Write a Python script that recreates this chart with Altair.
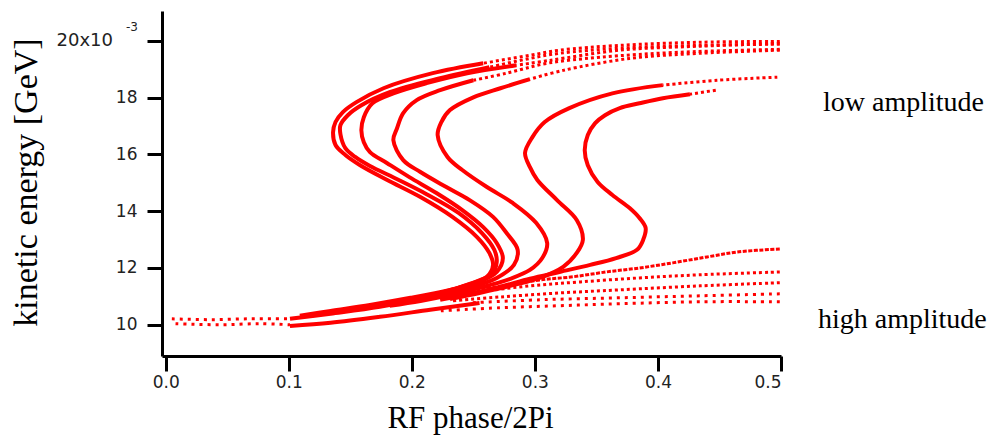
import altair as alt
import pandas as pd

# ---------------- data ----------------
# S-shaped filaments, ordered from the upper-right end to the lower-left end
c1_x = [0.447, 0.426, 0.404, 0.385, 0.369, 0.357, 0.349, 0.343, 0.3405, 0.343, 0.351, 0.363, 0.377, 0.385, 0.390, 0.388, 0.383, 0.366, 0.345, 0.320, 0.296, 0.272, 0.247, 0.223]
c1_y = [18.26, 18.12, 17.98, 17.80, 17.63, 17.38, 17.10, 16.68, 16.15, 15.62, 15.03, 14.57, 14.11, 13.76, 13.41, 12.99, 12.64, 12.35, 12.11, 11.86, 11.62, 11.34, 11.09, 10.88]

c2_x = [0.497, 0.448, 0.404, 0.363, 0.328, 0.308, 0.298, 0.292, 0.296, 0.302, 0.318, 0.334, 0.339, 0.334, 0.323, 0.304, 0.280, 0.255, 0.231]
c2_y = [18.72, 18.61, 18.44, 18.15, 17.63, 17.14, 16.61, 16.05, 15.55, 15.10, 14.39, 13.69, 12.99, 12.53, 12.04, 11.65, 11.37, 11.12, 10.91]

c3_x = [0.499, 0.434, 0.377, 0.323, 0.296, 0.272, 0.250, 0.231, 0.224, 0.221, 0.229, 0.241, 0.261, 0.282, 0.301, 0.310, 0.306, 0.296, 0.280, 0.255, 0.231, 0.207, 0.182]
c3_y = [19.67, 19.56, 19.38, 18.96, 18.65, 18.33, 18.01, 17.56, 17.14, 16.68, 15.91, 15.45, 14.85, 14.29, 13.59, 12.88, 12.35, 11.93, 11.62, 11.30, 11.05, 10.84, 10.67]

c4_x = [0.499, 0.418, 0.353, 0.310, 0.277, 0.250, 0.223, 0.204, 0.193, 0.188, 0.185, 0.193, 0.207, 0.228, 0.247, 0.266, 0.277, 0.286, 0.283, 0.269, 0.247, 0.223, 0.190, 0.158, 0.134]
c4_y = [19.70, 19.60, 19.42, 19.21, 18.86, 18.61, 18.26, 17.91, 17.45, 16.92, 16.50, 15.80, 15.38, 14.85, 14.39, 13.80, 13.23, 12.64, 12.11, 11.65, 11.30, 11.05, 10.77, 10.56, 10.42]

c5_x = [0.499, 0.434, 0.369, 0.312, 0.285, 0.245, 0.212, 0.185, 0.168, 0.161, 0.159, 0.161, 0.166, 0.180, 0.198, 0.220, 0.241, 0.258, 0.269, 0.274, 0.269, 0.255, 0.231, 0.199, 0.166, 0.134, 0.109]
c5_y = [19.91, 19.81, 19.67, 19.31, 19.14, 18.86, 18.51, 18.15, 17.80, 17.31, 16.85, 16.43, 16.08, 15.69, 15.20, 14.64, 14.04, 13.44, 12.88, 12.35, 11.86, 11.51, 11.23, 10.95, 10.70, 10.49, 10.32]

c6_x = [0.499, 0.434, 0.369, 0.320, 0.296, 0.263, 0.223, 0.182, 0.159, 0.148, 0.142, 0.142, 0.146, 0.154, 0.166, 0.186, 0.212, 0.238, 0.257, 0.267, 0.269, 0.265, 0.247, 0.223, 0.190, 0.150, 0.117]
c6_y = [19.88, 19.84, 19.74, 19.56, 19.38, 19.07, 18.68, 18.19, 17.73, 17.38, 17.03, 16.71, 16.22, 15.91, 15.59, 15.17, 14.60, 13.94, 13.23, 12.64, 12.21, 11.79, 11.44, 11.12, 10.84, 10.53, 10.32]

c7_x = [0.499, 0.434, 0.369, 0.320, 0.296, 0.258, 0.217, 0.177, 0.155, 0.144, 0.138, 0.136, 0.138, 0.146, 0.158, 0.180, 0.207, 0.233, 0.253, 0.263, 0.266, 0.261, 0.241, 0.215, 0.174, 0.134, 0.101]
c7_y = [19.98, 19.95, 19.84, 19.67, 19.49, 19.21, 18.86, 18.33, 17.84, 17.49, 17.14, 16.78, 16.33, 15.98, 15.62, 15.10, 14.50, 13.80, 13.09, 12.53, 12.11, 11.69, 11.34, 10.98, 10.63, 10.39, 10.21]

# lower branches running out to phase 0.5 (high amplitude side)
l1_x = [0.499, 0.466, 0.440, 0.412, 0.385, 0.358, 0.331, 0.304, 0.280, 0.255, 0.231]
l1_y = [12.67, 12.57, 12.39, 12.18, 12.00, 11.86, 11.69, 11.58, 11.41, 11.23, 11.02]
l2_x = [0.499, 0.434, 0.385, 0.337, 0.296, 0.255, 0.223]
l2_y = [11.86, 11.76, 11.65, 11.51, 11.37, 11.16, 10.95]
l3_x = [0.499, 0.434, 0.369, 0.320, 0.272, 0.231]
l3_y = [11.48, 11.37, 11.23, 11.12, 10.98, 10.84]
l4_x = [0.499, 0.434, 0.369, 0.304, 0.247]
l4_y = [11.09, 11.02, 10.95, 10.88, 10.77]
l5_x = [0.499, 0.434, 0.369, 0.320, 0.272, 0.223]
l5_y = [10.81, 10.81, 10.74, 10.67, 10.60, 10.49]

# low-energy band on the left
b0_x = [0.101, 0.134, 0.174, 0.215, 0.255]
b0_y = [9.96, 10.07, 10.28, 10.53, 10.77]
b1_x = [0.005, 0.036, 0.069, 0.101]
b1_y = [10.21, 10.18, 10.21, 10.21]
b2_x = [0.008, 0.044, 0.077, 0.101]
b2_y = [10.04, 10.00, 10.04, 10.00]

x_ticks = [0.0, 0.1, 0.2, 0.3, 0.4, 0.5]
y_ticks = [10, 12, 14, 16, 18, 20]
top_label = ["20x10"]
top_label_exp = ["-3"]
annotations = ["low amplitude", "high amplitude"]
x_title = "RF phase/2Pi"
y_title = "kinetic energy [GeV]"

# (name, xs, ys, number of dotted leading points, head style, tail style)
series = [
    ("c1", c1_x, c1_y, 1, "dot", "solid"),
    ("c2", c2_x, c2_y, 2, "dot", "solid"),
    ("c3", c3_x, c3_y, 4, "dot", "solid"),
    ("c4", c4_x, c4_y, 5, "dot", "solid"),
    ("c5", c5_x, c5_y, 4, "dot", "solid"),
    ("c6", c6_x, c6_y, 5, "dot", "solid"),
    ("c7", c7_x, c7_y, 5, "dot", "solid"),
    ("l1", l1_x, l1_y, 0, "dot", "dense"),
    ("l2", l2_x, l2_y, 0, "dot", "dot"),
    ("l3", l3_x, l3_y, 0, "dot", "dot"),
    ("l4", l4_x, l4_y, 0, "dot", "sparse"),
    ("l5", l5_x, l5_y, 0, "dot", "sparse"),
    ("b0", b0_x, b0_y, 0, "dot", "solid"),
    ("b1", b1_x, b1_y, 0, "dot", "sparse"),
    ("b2", b2_x, b2_y, 0, "dot", "sparse"),
]

rows = []
for name, xs, ys, head, hs, ts in series:
    for i, (xv, yv) in enumerate(zip(xs, ys)):
        if head > 0 and i <= head:
            rows.append({"seg": name + "_h", "style": hs, "o": i, "x": xv, "y": yv})
        if i >= head:
            rows.append({"seg": name + "_t", "style": ts, "o": i, "x": xv, "y": yv})
df = pd.DataFrame(rows)

RED = "#ff0000"
xs_scale = alt.Scale(domain=[-0.003, 0.5], nice=False, zero=False)
ys_scale = alt.Scale(domain=[8.9, 21.05], nice=False, zero=False)

x_axis = alt.Axis(
    values=x_ticks, format=".1f", grid=False, title=x_title,
    labelFont="DejaVu Sans", labelFontSize=17, labelColor="#222222", labelPadding=3,
    tickSize=15, tickWidth=3, tickColor="black", domainWidth=3, domainColor="black",
    titleFont="Liberation Serif", titleFontSize=31, titleFontWeight="normal",
    titleColor="black", titleBaseline="alphabetic", titleY=71, titleX=308,
)
y_axis = alt.Axis(
    values=y_ticks, grid=False, title=y_title,
    labelExpr="datum.value == 20 ? '' : datum.label",
    labelFont="DejaVu Sans", labelFontSize=17, labelColor="#222222", labelPadding=10,
    tickSize=15, tickWidth=3, tickColor="black", domainWidth=3, domainColor="black",
    titleFont="Liberation Serif", titleFontSize=34, titleFontWeight="normal",
    titleColor="black", titleX=-119, titleY=171,
)

base = alt.Chart(df).encode(
    x=alt.X("x:Q", scale=xs_scale, axis=x_axis),
    y=alt.Y("y:Q", scale=ys_scale, axis=y_axis),
    detail="seg:N",
    order="o:Q",
)

solid = base.transform_filter("datum.style == 'solid'").mark_line(
    color=RED, strokeWidth=4, interpolate="catmull-rom")
dense = base.transform_filter("datum.style == 'dense'").mark_line(
    color=RED, strokeWidth=3, strokeDash=[4, 1.5], interpolate="catmull-rom")
dot = base.transform_filter("datum.style == 'dot'").mark_line(
    color=RED, strokeWidth=3, strokeDash=[3, 3], interpolate="catmull-rom")
sparse = base.transform_filter("datum.style == 'sparse'").mark_line(
    color=RED, strokeWidth=3, strokeDash=[3, 5], interpolate="catmull-rom")

ann_df = pd.DataFrame({"t": annotations, "px": [661, 656], "py": [92, 309]})
ann = alt.Chart(ann_df).mark_text(
    align="left", baseline="middle", font="Liberation Serif", fontSize=28, color="black"
).encode(text="t:N", x=alt.X("px:Q", scale=None), y=alt.Y("py:Q", scale=None))

top = alt.Chart(pd.DataFrame({"t": top_label})).mark_text(
    align="right", baseline="middle", font="DejaVu Sans", fontSize=18, color="#222222"
).encode(text="t:N", x=alt.value(-49), y=alt.value(30))

sup = alt.Chart(pd.DataFrame({"t": top_label_exp})).mark_text(
    align="left", baseline="middle", font="DejaVu Sans", fontSize=12, color="#222222"
).encode(text="t:N", x=alt.value(-36), y=alt.value(16))

chart = alt.layer(solid, dense, dot, sparse, ann, top, sup).properties(
    width=619, height=345,
    padding={"left": 154, "top": 3, "right": 208, "bottom": 79},
    autosize=alt.AutoSizeParams(type="none"),
).configure_view(stroke="transparent")

chart.save("out.html", embed_options={"renderer": "svg", "actions": False})
